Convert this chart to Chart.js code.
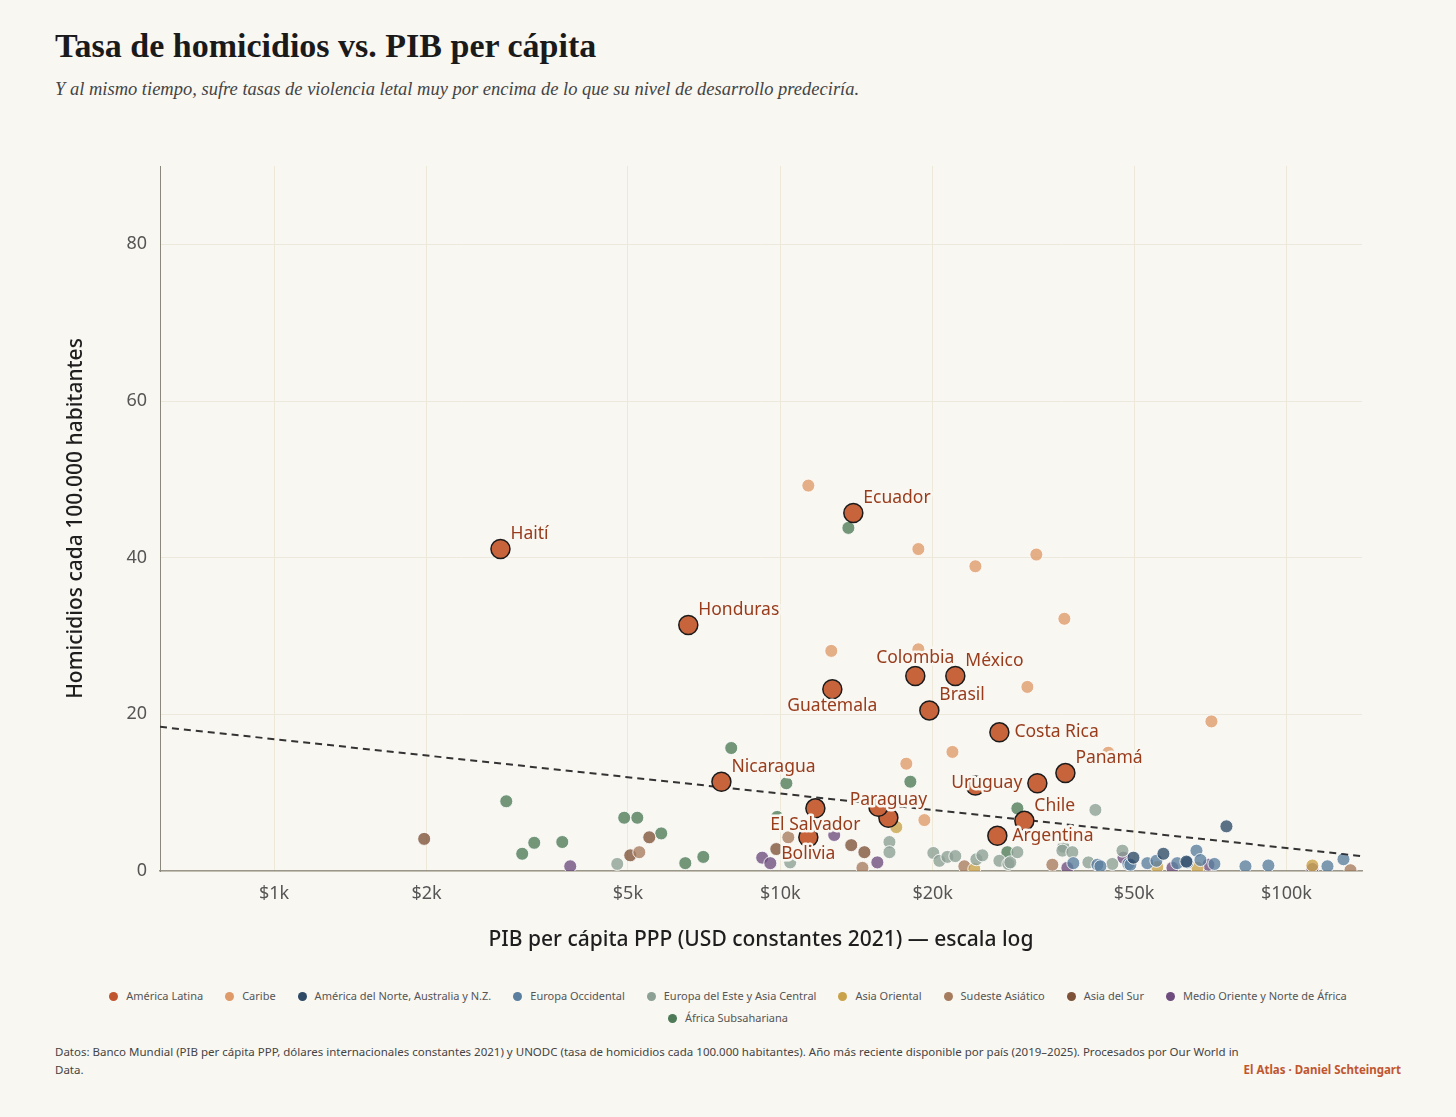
<!DOCTYPE html>
<html lang="es">
<head>
<meta charset="utf-8">
<title>Tasa de homicidios vs. PIB per cápita</title>
<script src="https://cdn.jsdelivr.net/npm/chart.js@4.4.1/dist/chart.umd.min.js"></script>
<style>
  html, body { margin: 0; padding: 0; background: #f9f7f2; }
  #page { position: relative; width: 1456px; height: 1117px; font-family: "Noto Sans", sans-serif; }
  h1 { position: absolute; left: 55px; top: 26px; margin: 0; font: bold 34px/40px "Liberation Serif", serif; color: #1a1a1a; }
  .sub { position: absolute; left: 55px; top: 77px; margin: 0; font: italic 18.5px/24px "Liberation Serif", serif; color: #444; }
  #wrap { position: absolute; left: 0; top: 140px; width: 1456px; height: 830px; }
  #legend { position: absolute; left: 55px; top: 985px; width: 1346px; display: flex; flex-wrap: wrap; justify-content: center; column-gap: 22px; font-size: 11px; line-height: 22px; color: #555; }
  #legend .dot { display: inline-block; width: 9px; height: 9px; border-radius: 50%; margin-right: 8px; vertical-align: -1px; }
  #foot { position: absolute; left: 55px; top: 1043px; width: 1346px; display: flex; align-items: flex-end; font-size: 11.5px; line-height: 18px; color: #444; }
  #foot .src { width: 1185px; }
  #foot .credit { margin-left: auto; color: #c0562f; font-weight: bold; white-space: nowrap; }
</style>
</head>
<body>
<div id="page">
  <h1>Tasa de homicidios vs. PIB per cápita</h1>
  <p class="sub">Y al mismo tiempo, sufre tasas de violencia letal muy por encima de lo que su nivel de desarrollo predeciría.</p>
  <div id="wrap"><canvas id="chart"></canvas></div>
  <div id="legend"></div>
  <div id="foot">
    <div class="src">Datos: Banco Mundial (PIB per cápita PPP, dólares internacionales constantes 2021) y UNODC (tasa de homicidios cada 100.000 habitantes). Año más reciente disponible por país (2019–2025). Procesados por Our World in Data.</div>
    <div class="credit">El Atlas · Daniel Schteingart</div>
  </div>
</div>
<script>
// regiones (orden de la leyenda)
const regionNames = ['América Latina', 'Caribe', 'América del Norte, Australia y N.Z.', 'Europa Occidental', 'Europa del Este y Asia Central', 'Asia Oriental', 'Sudeste Asiático', 'Asia del Sur', 'Medio Oriente y Norte de África', 'África Subsahariana'];
const regionColors = ['#c0562f', '#de9a68', '#2e4a66', '#5a7e9e', '#8ca094', '#c9a24a', '#a67c5e', '#7d5238', '#6e4c7e', '#4e7a58'];

// América Latina (PIB per cápita, homicidios)
const latamNames = ['Haití', 'Honduras', 'Ecuador', 'Colombia', 'México', 'Guatemala', 'Brasil', 'Costa Rica', 'Panamá', 'Uruguay', 'Nicaragua', 'El Salvador', 'Paraguay', 'Chile', 'Argentina', 'Bolivia', '', ''];
const latamGdp = [2800, 6580, 13940, 18480, 22170, 12670, 19700, 27090, 36580, 32200, 7650, 11730, 16350, 30350, 26840, 11360, 24290, 15620];
const latamHom = [41.1, 31.4, 45.7, 24.9, 24.9, 23.2, 20.5, 17.7, 12.5, 11.2, 11.4, 8.0, 6.8, 6.4, 4.5, 4.3, 10.9, 8.2];

const caribeGdp = [11360, 18740, 24290, 32050, 36410, 12610, 18740, 30770, 21880, 17740, 71080, 44470, 19260];
const caribeHom = [49.2, 41.1, 38.9, 40.4, 32.2, 28.1, 28.3, 23.5, 15.2, 13.7, 19.1, 15.1, 6.5];

const norteGdp = [76100, 49850, 63430, 57130];
const norteHom = [5.7, 1.7, 1.2, 2.2];

const eurOccGdp = [37920, 42310, 42890, 48710, 49160, 53110, 55340, 60840, 63730, 66400, 67610, 72050, 82980, 92100, 120500, 129600];
const eurOccHom = [1.0, 0.8, 0.6, 0.9, 0.8, 1.0, 1.3, 1.0, 1.1, 2.6, 1.4, 0.9, 0.6, 0.7, 0.6, 1.5];

const eurEsteGdp = [4763, 10460, 16430, 16430, 20060, 20620, 21380, 22170, 24400, 25070, 27090, 28220, 28470, 29400, 36250, 36080, 37750, 40620, 41930, 45290, 47420];
const eurEsteHom = [0.9, 1.1, 3.7, 2.4, 2.3, 1.3, 1.8, 1.9, 1.5, 2.0, 1.3, 0.9, 1.1, 2.4, 3.1, 2.6, 2.4, 1.1, 7.8, 0.9, 2.6];

const asiaOrGdp = [16950, 24170, 55560, 66700, 112500];
const asiaOrHom = [5.6, 0.25, 0.5, 0.4, 0.7];

const sudesteGdp = [10370, 5265, 14530, 23100, 34470, 133800];
const sudesteHom = [4.3, 2.4, 0.4, 0.6, 0.8, 0.1];

const asiaSurGdp = [1979, 5053, 5510, 9820, 13810, 14660];
const asiaSurHom = [4.1, 2.0, 4.3, 2.8, 3.3, 2.4];

const medioGdp = [3846, 9210, 9556, 12780, 15550, 36910, 47640, 59530, 70110, 112500];
const medioHom = [0.6, 1.7, 1.0, 4.6, 1.1, 0.4, 1.7, 0.4, 0.8, 0.25];

const africaGdp = [13630, 8000, 10280, 18070, 9860, 29400, 2875, 3265, 3709, 3091, 4916, 5218, 5818, 6491, 7045, 28090];
const africaHom = [43.8, 15.7, 11.2, 11.4, 6.9, 8.0, 8.9, 3.6, 3.7, 2.2, 6.8, 6.8, 4.8, 1.0, 1.8, 2.4];

// tendencia (extremos de la recta en escala log)
const trendGdp = [595, 141000];
const trendHom = [18.4, 1.9];

const xTickValues = [1000, 2000, 5000, 10000, 20000, 50000, 100000];
const xTickLabels = ['$1k', '$2k', '$5k', '$10k', '$20k', '$50k', '$100k'];
const yTickValues = [0, 20, 40, 60, 80];

// donde va cada etiqueta respecto del punto
const labelSide = {
  'Colombia': 'above', 'Paraguay': 'above',
  'Guatemala': 'below', 'El Salvador': 'below', 'Bolivia': 'below',
  'Costa Rica': 'right', 'Argentina': 'right',
  'Uruguay': 'left'
};

function toPoints(xs, ys) {
  return xs.map((x, i) => ({x: x, y: ys[i]}));
}

function smallSet(idx, xs, ys) {
  return {
    type: 'scatter',
    label: regionNames[idx],
    data: toPoints(xs, ys),
    backgroundColor: regionColors[idx] + 'c8',
    borderColor: 'rgba(255,255,255,0.85)',
    borderWidth: 1,
    pointRadius: 6.5,
    pointHoverRadius: 6.5,
    clip: 0,
    order: 5
  };
}

const legend = document.getElementById('legend');
regionNames.forEach((name, i) => {
  const item = document.createElement('span');
  item.innerHTML = '<span class="dot" style="background:' + regionColors[i] + '"></span>' + name;
  legend.appendChild(item);
});

const pointLabels = {
  id: 'pointLabels',
  afterDatasetsDraw(chart) {
    const meta = chart.getDatasetMeta(0);
    const ctx = chart.ctx;
    ctx.save();
    ctx.font = '17.5px "Noto Sans"';
    ctx.textBaseline = 'middle';
    ctx.lineJoin = 'round';
    latamNames.forEach((name, i) => {
      if (!name) return;
      const el = meta.data[i];
      const side = labelSide[name] || 'upright';
      let x = el.x, y = el.y, align = 'left';
      if (side === 'upright') { x += 10; y -= 15; }
      else if (side === 'right') { x += 15; }
      else if (side === 'left') { x -= 15; align = 'right'; }
      else if (side === 'above') { y -= 18; align = 'center'; }
      else if (side === 'below') { y += 17; align = 'center'; }
      ctx.textAlign = align;
      ctx.strokeStyle = '#f9f7f2';
      ctx.lineWidth = 5;
      ctx.strokeText(name, x, y);
      ctx.fillStyle = '#983c1c';
      ctx.fillText(name, x, y);
    });
    ctx.restore();
  }
};

const datasets = [
  {
    type: 'scatter',
    label: regionNames[0],
    data: toPoints(latamGdp, latamHom),
    backgroundColor: '#c8643c',
    borderColor: '#1b1b1b',
    borderWidth: 1.5,
    pointRadius: 9.5,
    pointHoverRadius: 9.5,
    clip: 0,
    order: 0
  },
  {
    type: 'line',
    label: 'Tendencia',
    data: toPoints(trendGdp, trendHom),
    borderColor: '#333',
    borderWidth: 2,
    borderDash: [7, 5],
    pointRadius: 0,
    fill: false,
    order: 2
  },
  smallSet(1, caribeGdp, caribeHom),
  smallSet(2, norteGdp, norteHom),
  smallSet(3, eurOccGdp, eurOccHom),
  smallSet(4, eurEsteGdp, eurEsteHom),
  smallSet(5, asiaOrGdp, asiaOrHom),
  smallSet(6, sudesteGdp, sudesteHom),
  smallSet(7, asiaSurGdp, asiaSurHom),
  smallSet(8, medioGdp, medioHom),
  smallSet(9, africaGdp, africaHom)
];

new Chart(document.getElementById('chart'), {
  type: 'scatter',
  data: {datasets: datasets},
  plugins: [pointLabels],
  options: {
    responsive: true,
    maintainAspectRatio: false,
    animation: false,
    layout: {padding: {top: 26, right: 94, left: 0, bottom: 0}},
    plugins: {legend: {display: false}, tooltip: {enabled: false}},
    scales: {
      x: {
        type: 'logarithmic',
        min: 595,
        max: 141000,
        afterBuildTicks: s => { s.ticks = xTickValues.map(v => ({value: v})); },
        afterFit: s => { s.height = 99; },
        ticks: {
          callback: (v, i) => xTickLabels[i],
          font: {size: 18, family: 'Noto Sans'},
          color: '#555',
          padding: 12,
          maxRotation: 0,
          autoSkip: false
        },
        grid: {color: '#eee8d8', drawTicks: false},
        border: {color: '#9a968a', width: 1.5},
        title: {
          display: true,
          text: 'PIB per cápita PPP (USD constantes 2021) — escala log',
          font: {size: 21, weight: '500', family: 'Noto Sans'},
          color: '#1e1e1e',
          padding: {top: 0, bottom: 17}
        }
      },
      y: {
        min: 0,
        max: 90,
        afterBuildTicks: s => { s.ticks = yTickValues.map(v => ({value: v})); },
        afterFit: s => { s.width = 160; },
        ticks: {
          font: {size: 18, family: 'Noto Sans'},
          color: '#555',
          padding: 13
        },
        grid: {color: '#ece9dc', drawTicks: false},
        border: {color: '#8a877d', width: 1},
        title: {
          display: true,
          text: 'Homicidios cada 100.000 habitantes',
          font: {size: 21, weight: '500', family: 'Noto Sans'},
          color: '#1e1e1e',
          padding: {top: 63, bottom: 0}
        }
      }
    }
  }
});
</script>
</body>
</html>
